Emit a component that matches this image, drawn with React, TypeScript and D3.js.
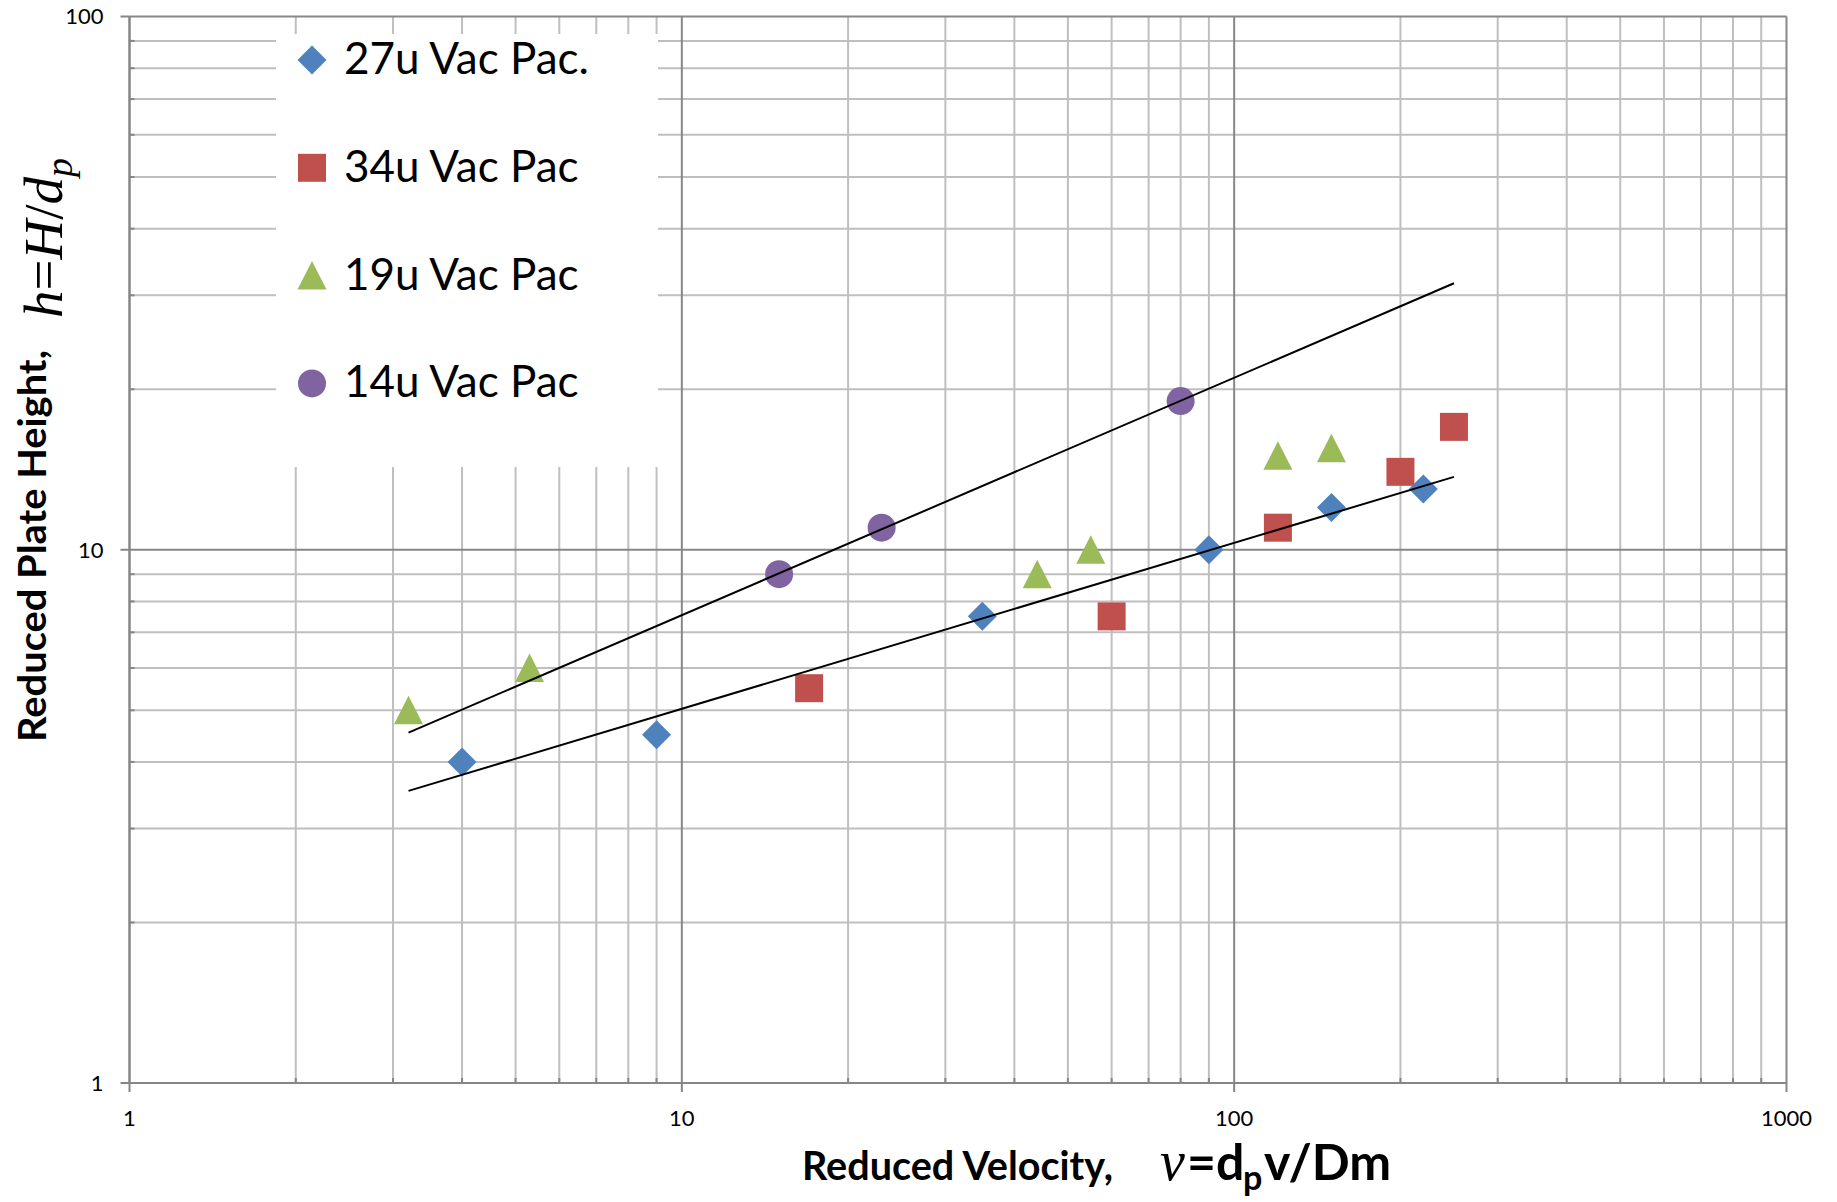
import React from 'react';
import * as d3 from 'd3';

// ---- data ----
const seriesNames = ['27u Vac Pac.', '34u Vac Pac', '19u Vac Pac', '14u Vac Pac'];
const seriesColors = ['#4F81BD', '#C0504D', '#9BBB59', '#8064A2'];
const seriesShapes = ['diamond', 'square', 'triangle', 'circle'];

const v27 = [4, 9, 35, 90, 150, 220];
const h27 = [4, 4.5, 7.5, 10, 12, 13];
const v34 = [17, 60, 120, 200, 250];
const h34 = [5.5, 7.5, 11, 14, 17];
const v19 = [3.2, 5.3, 44, 55, 120, 150];
const h19 = [5, 6, 9, 10, 15, 15.5];
const v14 = [15, 23, 80];
const h14 = [9, 11, 19];

const fitUpperV = [3.2, 250];
const fitUpperH = [4.54, 31.6];
const fitLowerV = [3.2, 250];
const fitLowerH = [3.53, 13.7];

const xTickLabels = ['1', '10', '100', '1000'];
const yTickLabels = ['1', '10', '100'];

const W = 1837;
const H = 1202;

const x = d3.scaleLog().domain([1, 1000]).range([129.5, 1786.5]);
const y = d3.scaleLog().domain([1, 100]).range([1083, 16.5]);

function markerPath(shape: string): string {
  switch (shape) {
    case 'diamond':
      return 'M0,-14.5L14.5,0L0,14.5L-14.5,0Z';
    case 'square':
      return 'M-14,-14L14,-14L14,14L-14,14Z';
    case 'triangle':
      return 'M0,-14.5L14.5,14L-14.5,14Z';
    default:
      return d3.arc()({ innerRadius: 0, outerRadius: 14, startAngle: 0, endAngle: Math.PI * 2 } as any) || '';
  }
}

const seriesData = [
  { v: v27, h: h27 },
  { v: v34, h: h34 },
  { v: v19, h: h19 },
  { v: v14, h: h14 },
];

const fits = [
  { v: fitUpperV, h: fitUpperH },
  { v: fitLowerV, h: fitLowerH },
];

const isMajor = (t: number) => Math.abs(Math.log10(t) - Math.round(Math.log10(t))) < 1e-9;

export default function App() {
  const xt = x.ticks();
  const yt = y.ticks();
  const line = d3
    .line<[number, number]>()
    .x((d) => x(d[0]))
    .y((d) => y(d[1]));
  const [x0, x1] = x.range();
  const [yb, ytop] = y.range();
  const gridMinor = '#BFBFBF';
  const gridMajor = '#878787';

  return (
    <svg
      width={W}
      height={H}
      style={{ position: 'absolute', left: 0, top: 0, background: '#fff', display: 'block' }}
    >
      <rect x={0} y={0} width={W} height={H} fill="#fff" />
      {/* minor gridlines */}
      {xt.filter((t) => !isMajor(t)).map((t, i) => (
        <line key={'xm' + i} x1={x(t)} x2={x(t)} y1={ytop} y2={yb} stroke={gridMinor} strokeWidth={2} />
      ))}
      {yt.filter((t) => !isMajor(t)).map((t, i) => (
        <line key={'ym' + i} x1={x0} x2={x1} y1={y(t)} y2={y(t)} stroke={gridMinor} strokeWidth={2} />
      ))}
      {/* major gridlines */}
      {xt.filter((t) => isMajor(t)).map((t, i) => (
        <line key={'xM' + i} x1={x(t)} x2={x(t)} y1={ytop} y2={yb} stroke={gridMajor} strokeWidth={2} />
      ))}
      {yt.filter((t) => isMajor(t)).map((t, i) => (
        <line key={'yM' + i} x1={x0} x2={x1} y1={y(t)} y2={y(t)} stroke={gridMajor} strokeWidth={2} />
      ))}
      {/* axes */}
      <line x1={x0} x2={x0} y1={ytop} y2={yb} stroke="#868686" strokeWidth={2} />
      <line x1={x0} x2={x1} y1={yb} y2={yb} stroke="#868686" strokeWidth={2} />
      {yt.map((t, i) =>
        isMajor(t) ? (
          <line key={'yt' + i} x1={x0 - 9} x2={x0} y1={y(t)} y2={y(t)} stroke="#868686" strokeWidth={2} />
        ) : (
          <line key={'yt' + i} x1={x0} x2={x0 + 5} y1={y(t)} y2={y(t)} stroke="#868686" strokeWidth={2} />
        )
      )}
      {xt.map((t, i) =>
        isMajor(t) ? (
          <line key={'xt' + i} x1={x(t)} x2={x(t)} y1={yb} y2={yb + 9} stroke="#868686" strokeWidth={2} />
        ) : (
          <line key={'xt' + i} x1={x(t)} x2={x(t)} y1={yb - 5} y2={yb} stroke="#868686" strokeWidth={2} />
        )
      )}
      {/* tick labels */}
      {yTickLabels.map((lab) => (
        <text
          key={'yl' + lab}
          x={x0 - 26}
          y={y(+lab)}
          dy="0.36em"
          textAnchor="end"
          fontFamily="Lato"
          fontSize={22}
          fill="#000"
        >
          {lab}
        </text>
      ))}
      {xTickLabels.map((lab) => (
        <text
          key={'xl' + lab}
          x={x(+lab)}
          y={yb + 35}
          dy="0.36em"
          textAnchor="middle"
          fontFamily="Lato"
          fontSize={22}
          fill="#000"
        >
          {lab}
        </text>
      ))}
      {/* legend box */}
      <rect x={276} y={34} width={382} height={433} fill="#fff" />
      {seriesNames.map((name, i) => (
        <g key={'lg' + i}>
          <path d={markerPath(seriesShapes[i])} fill={seriesColors[i]} transform={`translate(312,${60 + i * 107.8})`} />
          <text x={344} y={74 + i * 107.8} fontFamily="Lato" fontSize={44} fill="#000">
            {name}
          </text>
        </g>
      ))}
      {/* markers */}
      {seriesData.map((s, i) => (
        <g key={'s' + i}>
          {s.v.map((vv, j) => (
            <path
              key={j}
              d={markerPath(seriesShapes[i])}
              fill={seriesColors[i]}
              transform={`translate(${x(vv)},${y(s.h[j])})`}
            />
          ))}
        </g>
      ))}
      {/* fit lines */}
      {fits.map((f, i) => (
        <path
          key={'f' + i}
          d={line(f.v.map((vv, j) => [vv, f.h[j]] as [number, number])) || ''}
          fill="none"
          stroke="#000"
          strokeWidth={2}
        />
      ))}
      {/* y title */}
      <text
        transform="translate(46,742) rotate(-90)"
        fontFamily="Lato"
        fontWeight={700}
        fontSize={39}
        textLength={392}
        lengthAdjust="spacingAndGlyphs"
        fill="#000"
      >
        Reduced Plate Height,
      </text>
      <text transform="translate(62,318) rotate(-90)" fontFamily="Liberation Serif" fontSize={55} fill="#000">
        <tspan fontStyle="italic">h</tspan>
        <tspan>=</tspan>
        <tspan fontStyle="italic">H</tspan>
        <tspan>/</tspan>
        <tspan fontStyle="italic">d</tspan>
        <tspan fontStyle="italic" fontSize={38} dy={10}>
          p
        </tspan>
      </text>
      {/* x title */}
      <text
        x={802}
        y={1180}
        fontFamily="Lato"
        fontWeight={700}
        fontSize={40}
        textLength={311}
        lengthAdjust="spacingAndGlyphs"
        fill="#000"
      >
        Reduced Velocity,
      </text>
      <text y={1180} fontSize={50} fill="#000">
        <tspan x={1160} fontFamily="Liberation Serif" fontStyle="italic" fontSize={56}>
          ν
        </tspan>
        <tspan x={1187} fontFamily="Lato" fontWeight={700}>
          =d
        </tspan>
        <tspan x={1243} dy={10} fontFamily="Lato" fontWeight={700} fontSize={34}>
          p
        </tspan>
        <tspan x={1264} dy={-10} fontFamily="Lato" fontWeight={700}>
          v/Dm
        </tspan>
      </text>
    </svg>
  );
}
